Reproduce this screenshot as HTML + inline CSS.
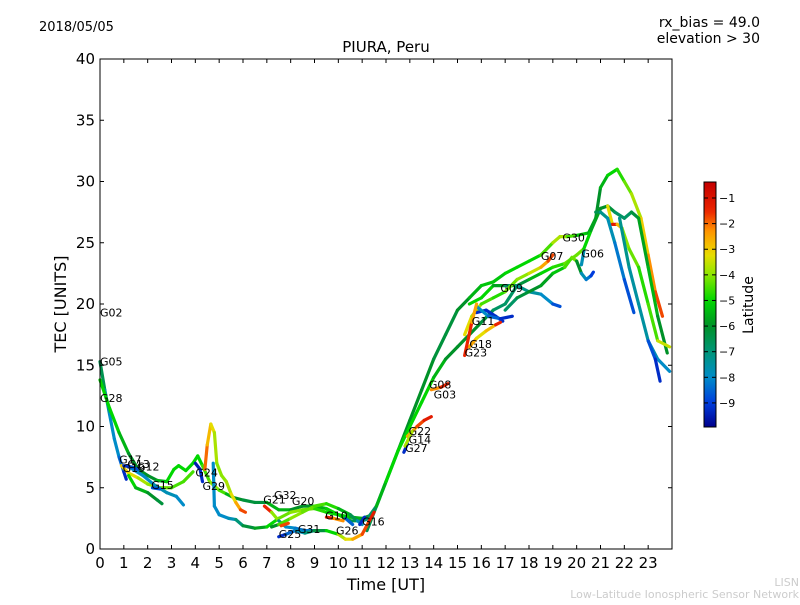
<!DOCTYPE html>
<html><head><meta charset="utf-8"><style>
body{margin:0;background:#fff;}
svg{font-family:"DejaVu Sans","Liberation Sans",sans-serif;}
</style></head><body>
<svg id="chart" width="800" height="600" xmlns="http://www.w3.org/2000/svg">
<rect width="800" height="600" fill="#fff"/>
<text x="39" y="31" font-size="13">2018/05/05</text>
<text x="386" y="52" font-size="15" text-anchor="middle">PIURA, Peru</text>
<text x="760" y="27" font-size="14" text-anchor="end">rx_bias = 49.0</text>
<text x="760" y="43" font-size="14" text-anchor="end">elevation &gt; 30</text>
<text x="0" y="0" font-size="16" text-anchor="middle" transform="translate(66,304) rotate(-90)">TEC [UNITS]</text>
<text x="386" y="590" font-size="16" text-anchor="middle">Time [UT]</text>
<text x="799" y="586" font-size="11" fill="#ccc" text-anchor="end">LISN</text>
<text x="799" y="598" font-size="11" fill="#ccc" text-anchor="end">Low-Latitude Ionospheric Sensor Network</text>
<g id="marks"></g>
<g id="axes"></g>
<g id="cbar"></g>
<text x="0" y="0" font-size="14" text-anchor="middle" transform="translate(753,305) rotate(-90)">Latitude</text>
</svg>
<script>
const xTicks=[0,1,2,3,4,5,6,7,8,9,10,11,12,13,14,15,16,17,18,19,20,21,22,23];
const yTicks=[0,5,10,15,20,25,30,35,40];
const cbTicks=[-1,-2,-3,-4,-5,-6,-7,-8,-9];
const latMin=-9.94, latMax=-0.375;
// tracks: [time, tec, latitude]
const trackG05=[[0,15.3,-6],[0.2,13,-7],[0.4,11,-8],[0.6,9,-8],[0.8,7.5,-8],[1,6.3,-9],[1.1,5.7,-9.5]];
const trackG28=[[0,13.8,-5],[0.4,11.5,-5],[0.8,9.5,-5],[1.2,7.8,-6],[1.6,6.5,-6],[2,6,-6],[2.4,5.6,-6],[2.8,5.5,-5],[3.1,6.5,-5],[3.3,6.8,-5],[3.6,6.4,-5],[3.9,7,-5],[4.1,7.6,-5],[4.3,6.8,-5],[4.6,5.5,-4],[5,4.8,-4],[5.3,4.5,-5],[5.6,4.2,-6],[6,4,-6],[6.5,3.8,-6.5],[7,3.8,-6],[7.5,3.2,-5],[8,3.2,-6],[8.5,3.5,-6],[9,3.5,-6],[9.5,3.3,-5],[10,2.8,-5],[10.5,2.3,-6],[11,2.3,-7],[11.3,2.5,-7]];
const trackG13=[[0.9,6.8,-3],[1.2,6.2,-3],[1.6,5.8,-3.5],[2,5.3,-4],[2.5,5,-4],[3,5,-4.5],[3.5,5.5,-4.5],[3.9,6.3,-4.5]];
const trackG19=[[1.2,6,-5],[1.5,5,-5],[2,4.6,-6],[2.4,4,-6],[2.6,3.7,-6.5]];
const trackG12=[[1.3,6.6,-8],[1.8,6,-8],[2.3,5.2,-8],[2.8,4.6,-7.5],[3.2,4.3,-8],[3.5,3.6,-8]];
const trackG17=[[1,6.8,-9.5],[1.3,6.7,-9],[1.6,6.5,-8.5]];
const trackG15=[[2.2,5,-9.5],[2.5,4.9,-8]];
const trackG24=[[4,7,-9.5],[4.2,6.5,-9.5],[4.3,5.5,-9]];
const trackG29=[[4.4,6.5,-1.5],[4.5,8.5,-2.5],[4.65,10.2,-3],[4.8,9.5,-3.5],[4.9,7,-4],[5.1,6,-4],[5.3,5.5,-4],[5.5,4.5,-3.5],[5.7,3.8,-3],[5.9,3.2,-2],[6.1,3,-1.5]];
const trackMain=[[4.75,7,-8],[4.8,3.5,-8],[5,2.8,-8],[5.4,2.5,-8],[5.7,2.4,-7.5],[6,1.9,-6.5],[6.5,1.7,-6],[7,1.8,-5.5],[7.5,2.5,-4.5],[8,3,-4],[8.5,3.2,-4],[9,3.3,-4.5],[9.5,3,-5],[10,2.8,-5],[10.5,2.6,-5],[11,2.5,-6],[11.3,2.7,-6.5],[11.6,3.5,-7],[12,5.5,-7],[12.5,8,-6],[13,10.5,-6],[13.5,13,-6],[14,15.5,-6],[14.5,17.5,-6.5],[15,19.5,-6],[15.5,20.5,-6],[16,21.5,-5],[16.5,21.8,-5.5],[17,22.5,-5],[17.5,23,-5],[18,23.5,-5],[18.5,24,-5],[19,25,-4],[19.3,25.5,-3.5],[19.6,25.5,-4],[20,25.6,-5],[20.5,25.8,-5.5],[20.8,27,-6],[21,29.5,-6],[21.3,30.5,-5],[21.7,31,-5],[22,30,-4.5],[22.3,29,-4],[22.7,27,-3.5],[23,24,-2.5],[23.3,21,-2],[23.6,19,-1.5]];
const trackSecond=[[11.2,1.5,-7],[11.6,3.5,-6],[12,5.5,-5],[12.5,8,-5],[13,10,-5],[13.5,12,-5],[14,14,-5],[14.5,15.5,-6],[15,16.5,-6],[15.5,17.5,-6],[16,18.5,-6],[16.5,19.5,-6.5],[17,20,-7],[17.5,21.5,-6.5],[18,22,-6],[18.5,22.5,-5],[19,23,-5],[19.5,23.3,-4.5],[20,24,-4],[20.3,24.5,-4.5],[20.6,26,-5.5],[21,27.8,-6],[21.3,28,-6],[21.6,27.5,-6.5],[22,27,-7],[22.3,27.5,-6.5],[22.6,27,-6],[23,23,-5.5],[23.4,19,-5.5],[23.8,16,-6.5]];
const trackDip=[[21.3,28,-5.5],[21.5,26.5,-1],[21.7,26.5,-1.5],[21.9,26.2,-4],[22.2,24.5,-4],[22.6,23,-4.5],[23,20,-5],[23.4,17,-4],[23.9,16.5,-3]];
const trackBlueFall=[[20.8,27.5,-6],[21,27.5,-7],[21.3,27,-7.5],[21.6,25,-8],[22,22,-8.5],[22.4,19.3,-9]];
const trackTealFall=[[21.8,27,-7],[22.2,23,-7.5],[22.6,20,-7.5],[23,17,-7.5],[23.4,15.5,-8],[23.9,14.5,-8]];
const trackLateBlue=[[23,17,-8.5],[23.3,15.5,-9],[23.5,13.7,-9.5]];
const trackG09=[[15.5,20,-5],[16,20.5,-5],[16.5,21.5,-5],[17,21.5,-6.5],[17.5,21.5,-7],[18,21,-7.5],[18.5,20.8,-7.5],[19,20,-8.5],[19.3,19.8,-9]];
const trackG07=[[15.3,17.5,-3],[15.6,19,-3.5],[16,20,-4],[16.5,20.5,-5],[17,21,-4.5],[17.5,22,-4],[18,22.5,-4],[18.5,23,-3],[18.8,23.5,-2],[19,24,-1.5]];
const trackG06=[[17,19.5,-7],[17.5,20.5,-6.5],[18,21,-6],[18.5,21.5,-6],[19,22.5,-5.5],[19.5,23,-5],[19.8,23.8,-4],[20,23.5,-4.5],[20.2,22.5,-7.5],[20.4,22,-8],[20.6,22.3,-8.5],[20.7,22.6,-9.5]];
const trackG06b=[[20.2,23.2,-8],[20.3,24.3,-7.5]];
const trackG11=[[15.8,19.3,-9],[16.2,19.5,-9.5],[16.6,19,-9],[16.9,18.6,-9.5]];
const trackG11b=[[15.8,19.8,-8],[16.3,19,-8],[16.8,18.8,-9],[17.3,19,-9.5]];
const trackG18=[[15.5,16.5,-2],[15.8,17.2,-3],[16.2,17.8,-3.5],[16.6,18.3,-2],[16.8,18.5,-1]];
const trackG23=[[15.3,15.8,-1],[15.6,18.5,-2],[15.8,20,-3]];
const trackG03=[[13.9,13,-2.5],[14.3,13.2,-2],[14.6,13.5,-1]];
const trackG22=[[12.9,9.2,-3],[13.3,10,-2],[13.6,10.5,-1.5],[13.9,10.8,-1]];
const trackG27=[[12.75,7.9,-9.5],[12.9,8.6,-9]];
const trackG14=[[12.8,8.4,-3.5],[13.1,9.6,-4]];
const trackG21=[[6.9,3.5,-1],[7.2,3,-2],[7.5,2.3,-6],[7.8,1.8,-8],[8.2,1.7,-8],[8.6,1.5,-8.5],[9,1.5,-8]];
const trackG20=[[7.2,1.8,-7],[7.5,2,-5],[8,2.5,-4],[8.5,3,-4],[9,3.5,-4.5],[9.5,3.7,-4.5],[10,3.3,-5],[10.5,2.8,-6],[10.8,2.3,-7],[11,2,-8.5]];
const trackG10=[[9.5,2.6,-1],[9.8,2.5,-1.5],[10.2,2.3,-3]];
const trackG10b=[[10.3,2.5,-8],[10.6,2,-9]];
const trackG25=[[7.5,1,-9.5],[7.8,1.2,-9],[8.2,1.5,-8],[8.6,1.3,-7.5],[9,1.5,-6.5],[9.5,1.5,-6],[10,1.2,-4],[10.3,0.8,-3.5],[10.6,0.8,-3],[11,1.2,-2],[11.3,2.3,-1.5],[11.5,3,-1]];
const trackG31=[[7.6,1.9,-2],[7.9,2.1,-1.5]];
const trackG16=[[10.9,2,-9.5],[11.1,2.6,-9]];
const tracks=[trackG05,trackG28,trackG13,trackG19,trackG12,trackG17,trackG15,trackG24,trackG29,trackMain,trackSecond,trackDip,trackBlueFall,trackTealFall,trackLateBlue,trackG09,trackG07,trackG06,trackG06b,trackG11,trackG11b,trackG18,trackG23,trackG03,trackG22,trackG27,trackG14,trackG21,trackG20,trackG10,trackG10b,trackG25,trackG31,trackG16];
const labelNames=["G02","G05","G28","G17","G13","G19","G12","G15","G24","G29","G32","G21","G20","G10","G31","G25","G26","G16","G22","G14","G27","G08","G03","G23","G18","G11","G09","G07","G30","G06"];
const labelTimes=[0,0,0,0.8,1.15,0.95,1.55,2.15,4.0,4.3,7.3,6.85,8.05,9.45,8.3,7.5,9.9,11.0,12.95,12.95,12.8,13.8,14.0,15.3,15.5,15.6,16.8,18.5,19.4,20.2];
const labelTecs=[19.0,15.0,12.0,7.0,6.6,6.3,6.4,4.9,5.9,4.8,4.1,3.7,3.6,2.4,1.3,0.9,1.2,1.9,9.3,8.6,7.9,13.1,12.3,15.7,16.4,18.3,21.0,23.6,25.1,23.8];

const NS="http://www.w3.org/2000/svg";
const X0=100,X1=672,Y0=549,Y1=59;
const xs=t=>X0+t*(X1-X0)/24;
const ys=v=>Y0-v*(Y0-Y1)/40;
const cbTop=182,cbBot=427;
const cbY=l=>cbBot-(l-latMin)/(latMax-latMin)*(cbBot-cbTop);
// colormap stops keyed by latitude
const cmapLat=[-9.94,-9,-8,-7,-6,-5,-4,-3.2,-2.3,-1.5,-0.375];
const cmapRGB=[[0,0,140],[0,60,220],[0,140,200],[0,150,120],[0,145,40],[0,215,0],[140,230,0],[235,220,0],[255,150,0],[235,35,0],[195,0,0]];
function jet(l){
  if(l<=cmapLat[0])return `rgb(${cmapRGB[0]})`;
  for(let i=0;i<cmapLat.length-1;i++){
    if(l<=cmapLat[i+1]){const f=(l-cmapLat[i])/(cmapLat[i+1]-cmapLat[i]);const a=cmapRGB[i],b=cmapRGB[i+1];
      return `rgb(${Math.round(a[0]+(b[0]-a[0])*f)},${Math.round(a[1]+(b[1]-a[1])*f)},${Math.round(a[2]+(b[2]-a[2])*f)})`;}
  }
  return `rgb(${cmapRGB[cmapRGB.length-1]})`;
}
function mk(tag,attrs,parent){const e=document.createElementNS(NS,tag);for(const k in attrs)e.setAttribute(k,attrs[k]);parent.appendChild(e);return e;}
const marks=document.getElementById('marks');
tracks.forEach((tr,i)=>{
  const g=mk('g',{},marks);
  
  
  for(let j=0;j<tr.length-1;j++){
    const a=tr[j],b=tr[j+1];
    const s=mk('line',{x1:xs(a[0]),y1:ys(a[1]),x2:xs(b[0]),y2:ys(b[1]),stroke:jet((a[2]+b[2])/2),'stroke-width':3.2,'stroke-linecap':'round'},g);
    
    
  }
});
labelNames.forEach((n,i)=>{
  const t=mk('text',{x:xs(labelTimes[i]),y:ys(labelTecs[i]),'font-size':11},marks);
  
  
  t.textContent=n;
});
const ax=document.getElementById('axes');
const frame=mk('rect',{x:X0,y:Y1,width:X1-X0,height:Y0-Y1,fill:'none',stroke:'#000','stroke-width':1},ax);


xTicks.forEach(v=>{
  const x=xs(v);
  mk('line',{x1:x,y1:Y0,x2:x,y2:Y0-4,stroke:'#000'},ax);
  mk('line',{x1:x,y1:Y1,x2:x,y2:Y1+4,stroke:'#000'},ax);
  const t=mk('text',{x:x,y:Y0+19,'font-size':15,'text-anchor':'middle'},ax);
  
  
  t.textContent=v;
});
yTicks.forEach(v=>{
  const y=ys(v);
  mk('line',{x1:X0,y1:y,x2:X0+4,y2:y,stroke:'#000'},ax);
  mk('line',{x1:X1,y1:y,x2:X1-4,y2:y,stroke:'#000'},ax);
  const t=mk('text',{x:X0-5,y:y+5,'font-size':15,'text-anchor':'end'},ax);
  
  
  t.textContent=v;
});
const cb=document.getElementById('cbar');
const defs=mk('defs',{},cb);
const grad=mk('linearGradient',{id:'jetg',x1:0,y1:1,x2:0,y2:0},defs);
for(let k=0;k<=40;k++){const l=latMin+(latMax-latMin)*k/40;mk('stop',{offset:k/40,'stop-color':jet(l)},grad);}
const cr=mk('rect',{x:704,y:cbTop,width:12,height:cbBot-cbTop,fill:'url(#jetg)',stroke:'#000','stroke-width':1},cb);


cbTicks.forEach(v=>{
  const y=cbY(v);
  mk('line',{x1:712,y1:y,x2:716,y2:y,stroke:'#000'},cb);
  mk('line',{x1:704,y1:y,x2:708,y2:y,stroke:'#000'},cb);
  const t=mk('text',{x:719,y:y+4,'font-size':11},cb);
  
  
  t.textContent='\u2212'+Math.abs(v);
});
</script>
</body></html>
